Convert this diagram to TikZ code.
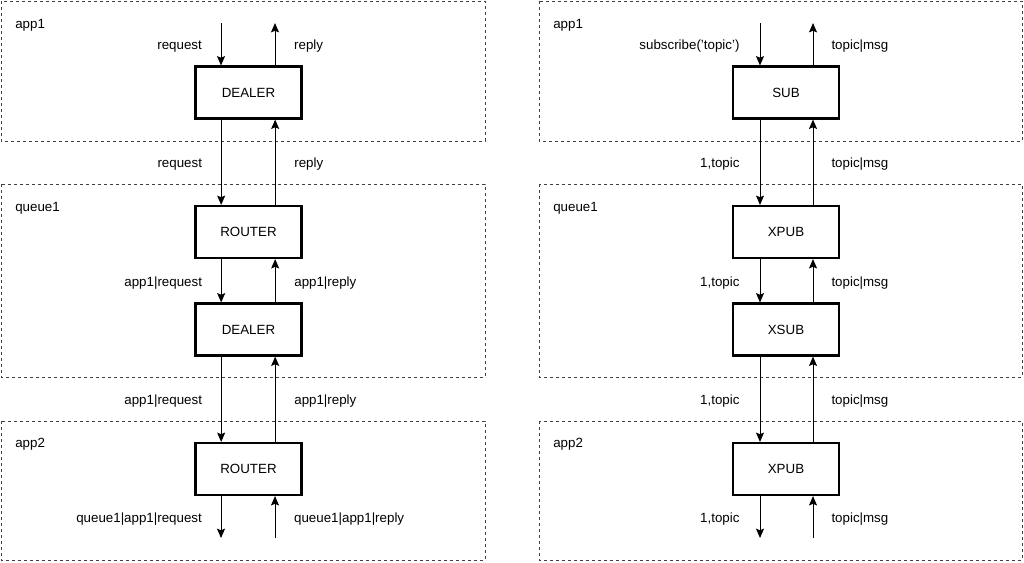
\documentclass[tikz,border=0pt]{standalone}
\usepackage{fontspec}
\setmainfont{Liberation Sans}
\usetikzlibrary{arrows.meta}

\begin{document}
\begin{tikzpicture}[x=0.75pt,y=-0.75pt,
  sock/.style={draw,line width=1.6pt,minimum width=79.5pt,minimum height=39pt,inner sep=0pt,font=\fontsize{10}{12}\selectfont},
  frame/.style={draw=black!75,line width=0.75pt,dash pattern=on 2.25pt off 2.25pt},
  flow/.style={line width=0.75pt,-{Stealth[length=7pt,width=6pt,inset=1.2pt]}},
  lbl/.style={inner sep=0pt,yshift=-1.5pt,font=\fontsize{10}{12}\selectfont}]
\useasboundingbox (0,0) rectangle (1024,562);
% frames
\draw[frame] (1,1) rectangle (485,141);
\draw[frame] (1,184) rectangle (485,377);
\draw[frame] (1,421) rectangle (485,560);
\draw[frame] (539,1) rectangle (1022,141);
\draw[frame] (539,184) rectangle (1022,377);
\draw[frame] (539,421) rectangle (1022,560);
\node[lbl,anchor=west] (appA) at (15,23) {app1};
\node[lbl,anchor=west] (queueA) at (15,206) {queue1};
\node[lbl,anchor=west] (appB) at (15,442) {app2};
\node[lbl,anchor=west] (appC) at (553,23) {app1};
\node[lbl,anchor=west] (queueB) at (553,206) {queue1};
\node[lbl,anchor=west] (appD) at (553,442) {app2};

% request / reply
\node[sock] (dealerA) at (248.5,92.5) {DEALER};
\node[sock] (routerQ) at (248.5,232) {ROUTER};
\node[sock] (dealerQ) at (248.5,329.5) {DEALER};
\node[sock] (routerB) at (248.5,469) {ROUTER};
\coordinate (reqIn) at (221,23);
\coordinate (repOut) at (275,23);
\coordinate (reqOut) at (221,538);
\coordinate (repIn) at (275,538);

\draw[flow] (reqIn) -- node[lbl,left=14pt] {request} (reqIn |- dealerA.north);
\draw[flow] (repOut |- dealerA.north) -- node[lbl,right=14pt] {reply} (repOut);
\draw[flow] ([xshift=-20.5pt]dealerA.south) -- node[lbl,left=14pt] {request} ([xshift=-20.5pt]routerQ.north);
\draw[flow] ([xshift=20pt]routerQ.north) -- node[lbl,right=14pt] {reply} ([xshift=20pt]dealerA.south);
\draw[flow] ([xshift=-20.5pt]routerQ.south) -- node[lbl,left=14pt] {app1|request} ([xshift=-20.5pt]dealerQ.north);
\draw[flow] ([xshift=20pt]dealerQ.north) -- node[lbl,right=14pt] {app1|reply} ([xshift=20pt]routerQ.south);
\draw[flow] ([xshift=-20.5pt]dealerQ.south) -- node[lbl,left=14pt] {app1|request} ([xshift=-20.5pt]routerB.north);
\draw[flow] ([xshift=20pt]routerB.north) -- node[lbl,right=14pt] {app1|reply} ([xshift=20pt]dealerQ.south);
\draw[flow] (reqOut |- routerB.south) -- node[lbl,left=14pt] {queue1|app1|request} (reqOut);
\draw[flow] (repIn) -- node[lbl,right=14pt] {queue1|app1|reply} (repIn |- routerB.south);

% publish / subscribe
\node[sock] (sub) at (786,92.5) {SUB};
\node[sock] (xpubQ) at (786,232) {XPUB};
\node[sock] (xsubQ) at (786,329.5) {XSUB};
\node[sock] (xpubB) at (786,469) {XPUB};
\coordinate (subIn) at (760,23);
\coordinate (msgOut) at (813,23);
\coordinate (subOut) at (760,538);
\coordinate (msgIn) at (813,538);

\draw[flow] (subIn) -- node[lbl,left=15pt] {subscribe('topic')} (subIn |- sub.north);
\draw[flow] (msgOut |- sub.north) -- node[lbl,right=13.5pt] {topic|msg} (msgOut);
\draw[flow] ([xshift=-19.5pt]sub.south) -- node[lbl,left=15pt] {1,topic} ([xshift=-19.5pt]xpubQ.north);
\draw[flow] ([xshift=20.25pt]xpubQ.north) -- node[lbl,right=13.5pt] {topic|msg} ([xshift=20.25pt]sub.south);
\draw[flow] ([xshift=-19.5pt]xpubQ.south) -- node[lbl,left=15pt] {1,topic} ([xshift=-19.5pt]xsubQ.north);
\draw[flow] ([xshift=20.25pt]xsubQ.north) -- node[lbl,right=13.5pt] {topic|msg} ([xshift=20.25pt]xpubQ.south);
\draw[flow] ([xshift=-19.5pt]xsubQ.south) -- node[lbl,left=15pt] {1,topic} ([xshift=-19.5pt]xpubB.north);
\draw[flow] ([xshift=20.25pt]xpubB.north) -- node[lbl,right=13.5pt] {topic|msg} ([xshift=20.25pt]xsubQ.south);
\draw[flow] (subOut |- xpubB.south) -- node[lbl,left=15pt] {1,topic} (subOut);
\draw[flow] (msgIn) -- node[lbl,right=13.5pt] {topic|msg} (msgIn |- xpubB.south);
\end{tikzpicture}
\end{document}
